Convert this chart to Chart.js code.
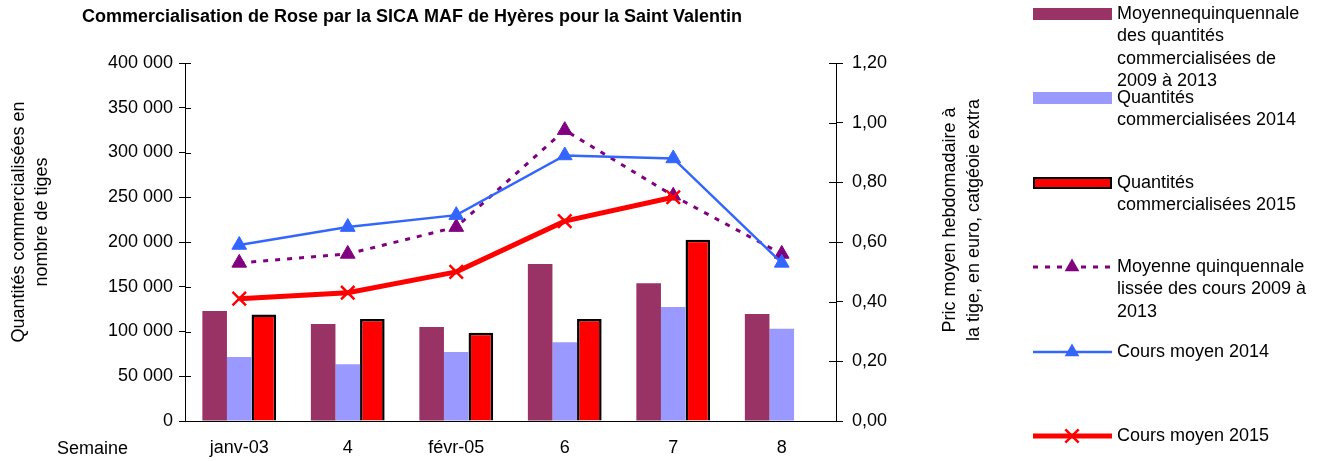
<!DOCTYPE html>
<html>
<head>
<meta charset="UTF-8">
<title>Commercialisation de Rose</title>
<script src="https://cdn.jsdelivr.net/npm/chart.js@4/dist/chart.umd.min.js"></script>
<style>
  body { margin: 0; background: #fff; }
  #c { display: block; }
</style>
</head>
<body>
<canvas id="c" width="1324" height="461"></canvas>
<script>
// semaines
var categories = ["janv-03", "4", "févr-05", "6", "7", "8"];

// quantités (nombre de tiges)
var moyQuant = [123000, 108500, 105000, 175500, 154000, 119500];
var quant2014 = [71500, 63500, 77000, 88000, 127500, 103000];
var quant2015 = [119000, 114000, 98500, 114000, 202500, null];

// cours (euro / tige)
var moyCours = [0.53, 0.56, 0.65, 0.975, 0.755, 0.56];
var cours2014 = [0.59, 0.65, 0.69, 0.89, 0.88, 0.53];
var cours2015 = [0.41, 0.43, 0.50, 0.67, 0.75, null];

var legendText = [
    ["Moyennequinquennale", "des quantités", "commercialisées de", "2009 à 2013"],
    ["Quantités", "commercialisées 2014"],
    ["Quantités", "commercialisées 2015"],
    ["Moyenne quinquennale", "lissée des cours 2009 à", "2013"],
    ["Cours moyen 2014"],
    ["Cours moyen 2015"]
];

Chart.defaults.font.family = "'Liberation Sans', Arial, sans-serif";
Chart.defaults.color = "#000";

function fmtQty(v) {
    return String(v).replace(/\B(?=(\d{3})+(?!\d))/g, " ");
}

// texte, légende et petites graduations intérieures
var extras = {
    id: "extras",
    afterDraw: function (chart) {
        var ctx = chart.ctx;
        var area = chart.chartArea;
        ctx.save();

        // graduations croisées
        ctx.strokeStyle = "#000";
        ctx.lineWidth = 1;
        var sy = chart.scales.y, sy1 = chart.scales.y1;
        ctx.beginPath();
        for (var i = 0; i < sy.ticks.length; i++) {
            var py = Math.round(sy.getPixelForTick(i)) + 0.5;
            ctx.moveTo(area.left, py);
            ctx.lineTo(area.left + 6, py);
        }
        for (var j = 0; j < sy1.ticks.length; j++) {
            var py1 = Math.round(sy1.getPixelForTick(j)) + 0.5;
            ctx.moveTo(area.right - 7, py1);
            ctx.lineTo(area.right, py1);
        }
        ctx.stroke();

        ctx.fillStyle = "#000";
        // titre
        ctx.font = "bold 18px 'Liberation Sans', Arial, sans-serif";
        ctx.textAlign = "center";
        ctx.textBaseline = "alphabetic";
        ctx.fillText("Commercialisation de Rose par la SICA MAF de Hyères pour la Saint Valentin", 412, 22);

        // Semaine
        ctx.font = "18px 'Liberation Sans', Arial, sans-serif";
        ctx.textAlign = "left";
        ctx.textBaseline = "middle";
        ctx.fillText("Semaine", 57, 449);

        // titres des axes
        ctx.textAlign = "center";
        ctx.save();
        ctx.translate(19, 222);
        ctx.rotate(-Math.PI / 2);
        ctx.fillText("Quantités commercialisées en", 0, 0);
        ctx.fillText("nombre de tiges", 0, 23);
        ctx.restore();

        ctx.save();
        ctx.translate(950, 220);
        ctx.rotate(-Math.PI / 2);
        ctx.fillText("Pric moyen hebdomadaire à", 0, 0);
        ctx.fillText("la tige, en euro, catgéoie extra", 0, 24);
        ctx.restore();

        // légende
        var ds = chart.data.datasets;
        var lx = 1033, lw = 79, tx = 1117, lh = 22.3;
        var rows = [14, 98, 183, 267, 352, 436];
        ctx.textAlign = "left";
        for (var k = 0; k < ds.length; k++) {
            var d = ds[k];
            var y = rows[k];
            if (d.type === "bar") {
                ctx.fillStyle = d.backgroundColor;
                ctx.fillRect(lx, y - 6, lw, 12);
                if (d.borderWidth) {
                    ctx.strokeStyle = d.borderColor;
                    ctx.lineWidth = 2;
                    ctx.strokeRect(lx + 1, y - 5, lw - 2, 10);
                }
            } else {
                ctx.strokeStyle = d.borderColor;
                ctx.lineWidth = d.borderWidth;
                ctx.setLineDash(d.borderDash || []);
                ctx.beginPath();
                ctx.moveTo(lx, y);
                ctx.lineTo(lx + lw, y);
                ctx.stroke();
                ctx.setLineDash([]);
                var mx = lx + 39;
                if (d.pointStyle === "triangle") {
                    var r = d.pointRadius;
                    ctx.fillStyle = d.pointBackgroundColor;
                    ctx.beginPath();
                    ctx.moveTo(mx, y - r);
                    ctx.lineTo(mx + r * 0.866, y + r / 2);
                    ctx.lineTo(mx - r * 0.866, y + r / 2);
                    ctx.closePath();
                    ctx.fill();
                } else {
                    var c = d.pointRadius * 0.707;
                    ctx.lineWidth = d.pointBorderWidth;
                    ctx.beginPath();
                    ctx.moveTo(mx - c, y - c);
                    ctx.lineTo(mx + c, y + c);
                    ctx.moveTo(mx - c, y + c);
                    ctx.lineTo(mx + c, y - c);
                    ctx.stroke();
                }
            }
            ctx.fillStyle = "#000";
            ctx.textBaseline = "middle";
            var lines = legendText[k];
            for (var m = 0; m < lines.length; m++) {
                ctx.fillText(lines[m], tx, y + m * lh);
            }
        }
        ctx.restore();
    }
};

var ctx = document.getElementById("c").getContext("2d");
var chart = new Chart(ctx, {
    data: {
        labels: categories,
        datasets: [
            {
                type: "bar", label: "Moyenne quinquennale des quantités",
                data: moyQuant, yAxisID: "y", order: 10,
                backgroundColor: "#993366", borderWidth: 0,
                categoryPercentage: 0.68, barPercentage: 1.0
            },
            {
                type: "bar", label: "Quantités commercialisées 2014",
                data: quant2014, yAxisID: "y", order: 10,
                backgroundColor: "#9999FF", borderWidth: 0,
                categoryPercentage: 0.68, barPercentage: 1.0
            },
            {
                type: "bar", label: "Quantités commercialisées 2015",
                data: quant2015, yAxisID: "y", order: 10,
                backgroundColor: "#FF0000", borderColor: "#000", borderWidth: 2.5,
                categoryPercentage: 0.68, barPercentage: 1.0
            },
            {
                type: "line", label: "Moyenne quinquennale lissée des cours",
                data: moyCours, yAxisID: "y1", order: 3,
                borderColor: "#800080", borderWidth: 3, borderDash: [5, 7],
                pointStyle: "triangle", pointRadius: 8.5,
                pointBackgroundColor: "#800080", pointBorderColor: "#800080", pointBorderWidth: 1,
                tension: 0, fill: false
            },
            {
                type: "line", label: "Cours moyen 2014",
                data: cours2014, yAxisID: "y1", order: 2,
                borderColor: "#3366FF", borderWidth: 2.5,
                pointStyle: "triangle", pointRadius: 8.5,
                pointBackgroundColor: "#3366FF", pointBorderColor: "#3366FF", pointBorderWidth: 1,
                tension: 0, fill: false
            },
            {
                type: "line", label: "Cours moyen 2015",
                data: cours2015, yAxisID: "y1", order: 1,
                borderColor: "#FF0000", borderWidth: 5,
                pointStyle: "crossRot", pointRadius: 9.5,
                pointBorderColor: "#FF0000", pointBorderWidth: 2.5,
                tension: 0, fill: false
            }
        ]
    },
    options: {
        responsive: false,
        animation: false,
        layout: { padding: { top: 63, left: 0, right: 0, bottom: 0 } },
        plugins: {
            legend: { display: false },
            title: { display: false },
            tooltip: { enabled: false }
        },
        scales: {
            x: {
                offset: true,
                grid: { display: false, drawTicks: false },
                border: { display: true, color: "#000", width: 1 },
                ticks: { font: { size: 18 }, color: "#000", padding: 16, maxRotation: 0, autoSkip: false },
                afterFit: function (s) { s.height = 40; }
            },
            y: {
                position: "left", min: 0, max: 400000,
                ticks: { stepSize: 50000, font: { size: 18 }, color: "#000", padding: 6,
                    callback: function (v) { return fmtQty(v); } },
                grid: { drawOnChartArea: false, tickLength: 6, color: "#000" },
                border: { color: "#000", width: 1 },
                afterFit: function (s) { s.width = 185; }
            },
            y1: {
                position: "right", min: 0, max: 1.2,
                ticks: { stepSize: 0.2, font: { size: 18 }, color: "#000", padding: 9,
                    callback: function (v) { return v.toFixed(2).replace(".", ","); } },
                grid: { drawOnChartArea: false, tickLength: 7, color: "#000" },
                border: { color: "#000", width: 1 },
                afterFit: function (s) { s.width = 488; }
            }
        }
    },
    plugins: [extras]
});
</script>
</body>
</html>
